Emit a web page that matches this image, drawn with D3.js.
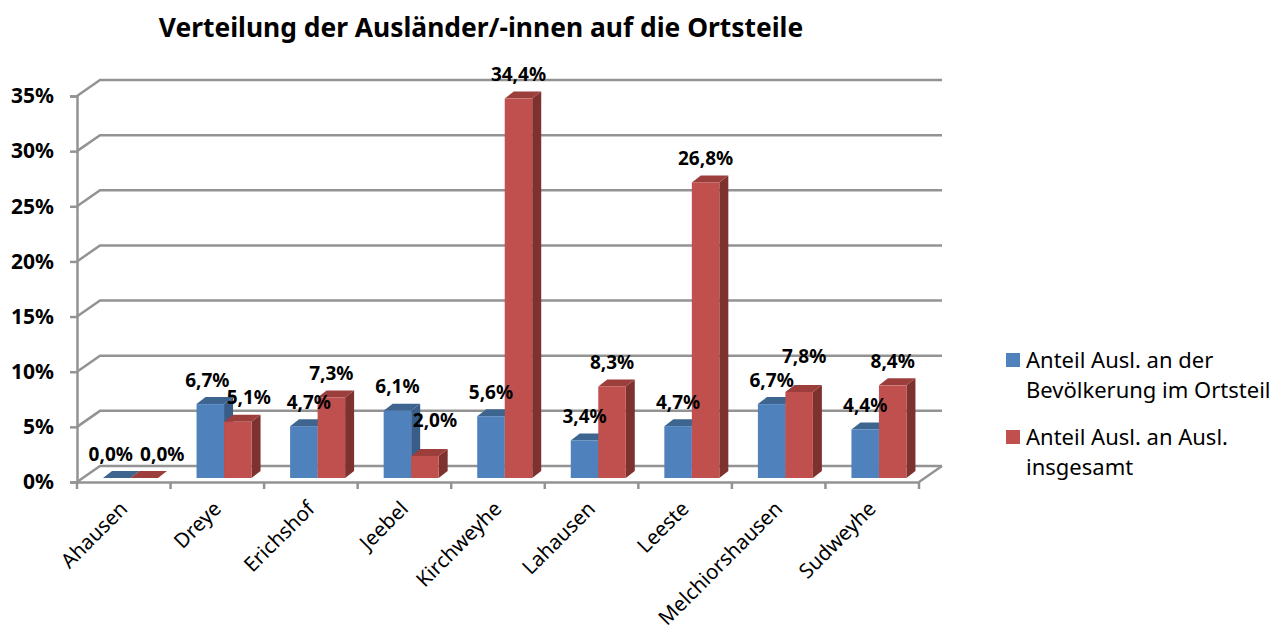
<!DOCTYPE html>
<html>
<head>
<meta charset="utf-8">
<script src="https://cdn.jsdelivr.net/npm/d3@7"></script>
<style>
  body { margin: 0; background: #fff; }
  svg { display: block; font-family: "Noto Sans", sans-serif; }
  text { fill: #000; }
</style>
</head>
<body>
<script>
let categories = ['Ahausen', 'Dreye', 'Erichshof', 'Jeebel', 'Kirchweyhe', 'Lahausen', 'Leeste', 'Melchiorshausen', 'Sudweyhe'];
let bevoelkerung = [0.0, 6.7, 4.7, 6.1, 5.6, 3.4, 4.7, 6.7, 4.4];
let insgesamt = [0.0, 5.1, 7.3, 2.0, 34.4, 8.3, 26.8, 7.8, 8.4];
let yTicks = [0, 5, 10, 15, 20, 25, 30, 35];
let seriesNames = [
  ['Anteil Ausl. an der', 'Bevölkerung im Ortsteil'],
  ['Anteil Ausl. an Ausl.', 'insgesamt']
];

let margin = {left: 77, top: 96, right: 362, bottom: 151};
let width = 1281 - margin.left - margin.right;
let height = 633 - margin.top - margin.bottom;

// depth of the 3d wall and of the bars
let wall = {dx: 23, dy: -16};
let depth = {dx: 9, dy: -7};
let lift = -4;

let colors = [
  {front: '#4f81bd', top: '#3e6590', side: '#385d88'},
  {front: '#c0504d', top: '#9b3e3c', side: '#7e3230'}
];

let svg = d3.select('body').append('svg')
  .attr('width', 1281)
  .attr('height', 633);

let x = d3.scaleBand().domain(categories).range([0, width]);
let inner = d3.scaleBand().domain([0, 1]).range([26, 81]);
let y = d3.scaleLinear().domain([0, 35]).range([height, 0]);

let g = svg.append('g')
  .attr('transform', 'translate(' + margin.left + ',' + margin.top + ')');

// wall lines
let grid = g.append('g').attr('class', 'grid');
grid.selectAll('polyline')
  .data(yTicks)
  .join('polyline')
  .attr('points', d => [
    [0, y(d)],
    [wall.dx, y(d) + wall.dy],
    [width + wall.dx, y(d) + wall.dy]
  ].join(' '))
  .attr('fill', 'none')
  .attr('stroke', '#939393')
  .attr('stroke-width', 2.5);

grid.append('path')
  .attr('d', 'M' + width + ',' + height + 'L' + (width + wall.dx) + ',' + (height + wall.dy))
  .attr('stroke', '#939393')
  .attr('stroke-width', 2.5);

let yAxis = g.append('g')
  .call(d3.axisLeft(y).tickValues(yTicks).tickFormat(d => d + '%').tickSize(7).tickPadding(16));
yAxis.selectAll('text')
  .attr('font-size', 21)
  .attr('font-weight', 700)
  .attr('font-family', '"Noto Sans", sans-serif');

let xAxis = g.append('g')
  .attr('transform', 'translate(0,' + height + ')')
  .call(d3.axisBottom(x).tickSize(0).tickPadding(0));
xAxis.selectAll('.tick line').remove();
xAxis.selectAll('.tick text')
  .attr('font-size', 20.5)
  .attr('font-family', '"Noto Sans", sans-serif')
  .attr('text-anchor', 'end')
  .attr('dy', 0)
  .attr('y', 0)
  .attr('transform', 'translate(5,28) rotate(-45)');

// category separators on the floor line
xAxis.selectAll('.sep')
  .data(d3.range(categories.length + 1))
  .join('line')
  .attr('class', 'sep')
  .attr('x1', i => i * x.step())
  .attr('x2', i => i * x.step())
  .attr('y1', 0)
  .attr('y2', 7);

g.selectAll('.domain, .tick line, .sep')
  .attr('stroke', '#939393')
  .attr('stroke-width', 2.5);

// bars
let series = [bevoelkerung, insgesamt];
let bars = [];
categories.forEach((c, i) => {
  series.forEach((s, k) => bars.push({cat: c, k: k, value: s[i], idx: i}));
});

let bar = g.selectAll('.bar')
  .data(bars)
  .join('g')
  .attr('class', 'bar');

bar.append('path')
  .attr('fill', d => colors[d.k].side)
  .attr('d', d => {
    let x1 = x(d.cat) + inner(d.k) + inner.bandwidth();
    let t = y(d.value) + lift;
    let b = y(0) + lift;
    return 'M' + x1 + ',' + t + 'l' + depth.dx + ',' + depth.dy + 'L' + (x1 + depth.dx) + ',' + (b + depth.dy) + 'L' + x1 + ',' + b + 'Z';
  });

bar.append('path')
  .attr('fill', d => colors[d.k].top)
  .attr('d', d => {
    let x0 = x(d.cat) + inner(d.k);
    let t = y(d.value) + lift;
    return 'M' + x0 + ',' + t + 'l' + depth.dx + ',' + depth.dy + 'h' + inner.bandwidth() + 'l' + (-depth.dx) + ',' + (-depth.dy) + 'Z';
  });

bar.append('rect')
  .attr('fill', d => colors[d.k].front)
  .attr('x', d => x(d.cat) + inner(d.k))
  .attr('y', d => y(d.value) + lift)
  .attr('width', inner.bandwidth())
  .attr('height', d => y(0) - y(d.value));

// labels that were moved by hand in the original, by category and series
let nudgeX = {'Ahausen0': -6, 'Ahausen1': 18, 'Dreye0': -3, 'Dreye1': 11, 'Erichshof0': 5, 'Jeebel1': 10, 'Melchiorshausen1': 5};
let nudgeY = {'Jeebel1': -11, 'Melchiorshausen1': -11};

g.selectAll('.label')
  .data(bars)
  .join('text')
  .attr('class', 'label')
  .attr('x', d => x(d.cat) + inner(d.k) + inner.bandwidth() / 2 + (nudgeX[d.cat + d.k] || 0))
  .attr('y', d => y(d.value) + lift - 17.5 + (nudgeY[d.cat + d.k] || 0))
  .attr('text-anchor', 'middle')
  .attr('font-size', 19)
  .attr('font-weight', 700)
  .text(d => d3.format('.1f')(d.value).replace('.', ',') + '%');

// title
svg.append('text')
  .attr('x', 481)
  .attr('y', 37)
  .attr('text-anchor', 'middle')
  .attr('font-size', 26.4)
  .attr('font-weight', 700)
  .text('Verteilung der Ausländer/-innen auf die Ortsteile');

// legend
let legend = svg.selectAll('.legend')
  .data(seriesNames)
  .join('g')
  .attr('class', 'legend')
  .attr('transform', (d, i) => 'translate(1006,' + (353 + i * 77) + ')');

legend.append('rect')
  .attr('width', 14)
  .attr('height', 14)
  .attr('fill', (d, i) => colors[i].front);

legend.selectAll('text')
  .data(d => d)
  .join('text')
  .attr('x', 20)
  .attr('y', (d, i) => 15 + i * 30)
  .attr('font-size', 22)
  .text(d => d);
</script>
</body>
</html>
